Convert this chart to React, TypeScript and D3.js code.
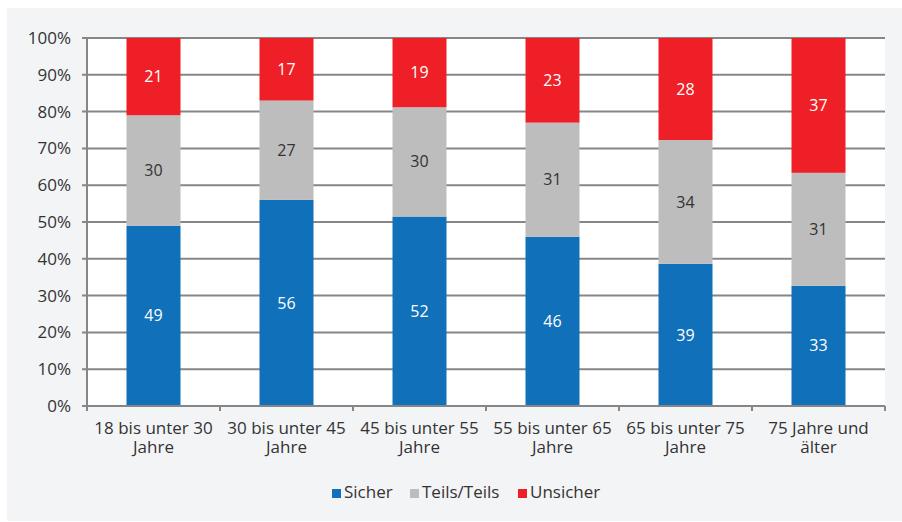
import React, { useEffect, useRef } from 'react';
import * as d3 from 'd3';

const categories = [
  ['18 bis unter 30', 'Jahre'],
  ['30 bis unter 45', 'Jahre'],
  ['45 bis unter 55', 'Jahre'],
  ['55 bis unter 65', 'Jahre'],
  ['65 bis unter 75', 'Jahre'],
  ['75 Jahre und', 'älter'],
];
const sicher = [49, 56, 52, 46, 39, 33];
const teils = [30, 27, 30, 31, 34, 31];
const unsicher = [21, 17, 19, 23, 28, 37];
const seriesNames = ['Sicher', 'Teils/Teils', 'Unsicher'];
const seriesColors = ['#1170ba', '#bdbdbd', '#ee1f26'];
const labelColors = ['#ffffff', '#333333', '#ffffff'];
const yTicks = [0, 0.1, 0.2, 0.3, 0.4, 0.5, 0.6, 0.7, 0.8, 0.9, 1];

const App = () => {
  const svgRef = useRef<SVGSVGElement>(null);

  useEffect(() => {
    const svg = d3.select(svgRef.current);
    svg.selectAll('*').remove();

    const width = 902;
    const height = 522;
    const margin = { top: 38, right: 17, bottom: 116, left: 87 };
    const innerWidth = width - margin.left - margin.right;
    const innerHeight = height - margin.top - margin.bottom;
    const font = "'Open Sans', 'DejaVu Sans', sans-serif";

    // panel background
    svg.append('rect')
      .attr('x', 7).attr('y', 8)
      .attr('width', width - 7).attr('height', height - 9)
      .attr('fill', '#f3f4f6');

    const g = svg.append('g')
      .attr('transform', `translate(${margin.left},${margin.top})`);

    g.append('rect')
      .attr('width', innerWidth).attr('height', innerHeight)
      .attr('fill', '#ffffff');

    const rows = categories.map((c, i) => ({
      key: i,
      s0: sicher[i],
      s1: teils[i],
      s2: unsicher[i],
    }));

    const stack = d3.stack<any>()
      .keys(['s0', 's1', 's2'])
      .offset(d3.stackOffsetExpand);
    const stacked = stack(rows);

    const xScale = d3.scaleBand<number>()
      .domain(rows.map(d => d.key))
      .range([0, innerWidth])
      .paddingInner(0.594)
      .paddingOuter(0.297);

    const yScale = d3.scaleLinear()
      .domain([0, 1])
      .range([innerHeight, 0]);

    // grid lines
    g.append('g')
      .selectAll('line')
      .data(yTicks)
      .enter().append('line')
      .attr('x1', -5).attr('x2', innerWidth)
      .attr('y1', d => yScale(d)).attr('y2', d => yScale(d))
      .attr('stroke', '#868686')
      .attr('stroke-width', 2);

    // y axis line
    g.append('line')
      .attr('x1', 0).attr('x2', 0)
      .attr('y1', 0).attr('y2', innerHeight)
      .attr('stroke', '#868686')
      .attr('stroke-width', 2);

    // bars
    stacked.forEach((layer, si) => {
      g.append('g')
        .selectAll('rect')
        .data(layer)
        .enter().append('rect')
        .attr('x', d => xScale(d.data.key)!)
        .attr('width', xScale.bandwidth())
        .attr('y', d => yScale(d[1]))
        .attr('height', d => yScale(d[0]) - yScale(d[1]))
        .attr('fill', seriesColors[si]);

      g.append('g')
        .selectAll('text')
        .data(layer)
        .enter().append('text')
        .attr('x', d => xScale(d.data.key)! + xScale.bandwidth() / 2)
        .attr('y', d => yScale((d[0] + d[1]) / 2))
        .attr('dy', '0.35em')
        .attr('text-anchor', 'middle')
        .style('font-family', font)
        .style('font-size', '16px')
        .style('fill', labelColors[si])
        .text((d, i) => [sicher, teils, unsicher][si][i]);
    });

    // x axis baseline + ticks
    const step = innerWidth / categories.length;
    g.append('line')
      .attr('x1', 0).attr('x2', innerWidth)
      .attr('y1', innerHeight).attr('y2', innerHeight)
      .attr('stroke', '#868686')
      .attr('stroke-width', 2);
    g.append('g')
      .selectAll('line')
      .data(d3.range(categories.length + 1))
      .enter().append('line')
      .attr('x1', d => d * step).attr('x2', d => d * step)
      .attr('y1', innerHeight).attr('y2', innerHeight + 5)
      .attr('stroke', '#868686')
      .attr('stroke-width', 2);

    // y labels
    g.append('g')
      .selectAll('text')
      .data(yTicks)
      .enter().append('text')
      .attr('x', -16)
      .attr('y', d => yScale(d))
      .attr('dy', '0.35em')
      .attr('text-anchor', 'end')
      .style('font-family', font)
      .style('font-size', '17px')
      .style('fill', '#333')
      .text(d => `${Math.round(d * 100)}%`);

    // x labels
    const xl = g.append('g')
      .selectAll('text')
      .data(rows)
      .enter().append('text')
      .attr('text-anchor', 'middle')
      .style('font-family', font)
      .style('font-size', '17px')
      .style('fill', '#333');
    xl.append('tspan')
      .attr('x', d => xScale(d.key)! + xScale.bandwidth() / 2)
      .attr('y', innerHeight + 28)
      .text(d => categories[d.key][0]);
    xl.append('tspan')
      .attr('x', d => xScale(d.key)! + xScale.bandwidth() / 2)
      .attr('y', innerHeight + 47)
      .text(d => categories[d.key][1]);

    // legend
    const legendX = [332, 410, 518];
    const legend = svg.append('g');
    seriesNames.forEach((name, i) => {
      legend.append('rect')
        .attr('x', legendX[i]).attr('y', 489)
        .attr('width', 9).attr('height', 9)
        .attr('fill', seriesColors[i]);
      legend.append('text')
        .attr('x', legendX[i] + 12).attr('y', 498)
        .style('font-family', font)
        .style('font-size', '17px')
        .style('fill', '#333')
        .text(name);
    });
  }, []);

  return (
    <div style={{ position: 'absolute', left: 0, top: 0 }}>
      <svg ref={svgRef} width={902} height={522} style={{ display: 'block' }}></svg>
    </div>
  );
};

export default App;
